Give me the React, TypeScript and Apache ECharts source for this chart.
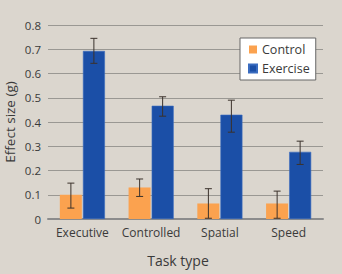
import React, { useEffect, useRef } from "react";
import * as echarts from "echarts";

const categories = ["Executive", "Controlled", "Spatial", "Speed"];
const controlValues = [0.1, 0.13, 0.064, 0.064];
const exerciseValues = [0.693, 0.467, 0.43, 0.277];
// [low, high] error ranges
const controlErrors = [
  [0.045, 0.148],
  [0.093, 0.165],
  [0.003, 0.125],
  [0.003, 0.115],
];
const exerciseErrors = [
  [0.642, 0.745],
  [0.424, 0.504],
  [0.358, 0.49],
  [0.225, 0.321],
];
const yTicks = { min: 0, max: 0.8, interval: 0.1 };

const FONT = "'Open Sans', 'Noto Sans', sans-serif";
const TEXT = "#3a3a3a";
const BAR_W = 22;
const HALF_OFFSET = 11.5;

function errorSeries(name: string, errors: number[][], sign: number) {
  return {
    type: "custom",
    name: name + "-err",
    silent: true,
    z: 5,
    data: errors.map((e, i) => [i, e[0], e[1]]),
    encode: { x: 0, y: [1, 2] },
    renderItem: (_params: any, api: any) => {
      const i = api.value(0);
      const lo = api.coord([i, api.value(1)]);
      const hi = api.coord([i, api.value(2)]);
      const x = lo[0] + sign * HALF_OFFSET;
      const cap = 3.5;
      const style = { stroke: "#3b322c", lineWidth: 1 };
      return {
        type: "group",
        children: [
          { type: "line", shape: { x1: x, y1: hi[1], x2: x, y2: lo[1] }, style },
          { type: "line", shape: { x1: x - cap, y1: hi[1], x2: x + cap, y2: hi[1] }, style },
          { type: "line", shape: { x1: x - cap, y1: lo[1], x2: x + cap, y2: lo[1] }, style },
        ],
      };
    },
  };
}

export default function App() {
  const ref = useRef<HTMLDivElement>(null);
  useEffect(() => {
    if (!ref.current) return;
    const chart = echarts.init(ref.current, undefined, { renderer: "svg" });
    chart.setOption({
      animation: false,
      backgroundColor: "#dbd6ce",
      textStyle: { fontFamily: FONT },
      grid: { left: 48, right: 19, top: 25, bottom: 55, containLabel: false, outerBoundsMode: "none" },
      legend: {
        orient: "vertical",
        left: 240,
        top: 38,
        width: 73,
        padding: [5, 6, 5, 8],
        itemWidth: 8,
        itemHeight: 8,
        itemGap: 6,
        backgroundColor: "#ffffff",
        borderColor: "#666",
        borderWidth: 1,
        icon: "rect",
        data: ["Control", "Exercise"],
        textStyle: { fontFamily: FONT, fontSize: 12.5, color: TEXT, padding: [0, 0, 0, 0] },
      },
      xAxis: {
        type: "category",
        data: categories,
        name: "Task type",
        nameLocation: "middle",
        nameGap: 34,
        nameMoveOverlap: false,
        nameTextStyle: { fontFamily: FONT, fontSize: 14, color: TEXT, padding: [0, 15, 0, 0] },
        axisLine: { lineStyle: { color: "#8c8c8c", width: 2 } },
        axisTick: { show: false },
        axisLabel: { interval: 0, fontFamily: FONT, fontSize: 12, color: TEXT, margin: 7 },
      },
      yAxis: {
        type: "value",
        min: yTicks.min,
        max: yTicks.max,
        interval: yTicks.interval,
        name: "Effect size (g)",
        nameLocation: "middle",
        nameGap: 31,
        nameMoveOverlap: false,
        nameTextStyle: { fontFamily: FONT, fontSize: 13.5, color: TEXT },
        axisLine: { show: false },
        axisTick: { show: false },
        axisLabel: { fontFamily: FONT, fontSize: 11.5, color: TEXT, margin: 7 },
        splitLine: { lineStyle: { color: "#9a9893", width: 1 } },
      },
      series: [
        {
          type: "bar",
          name: "Control",
          data: controlValues,
          barWidth: BAR_W,
          barGap: "5%",
          itemStyle: { color: "#fba24f" },
        },
        {
          type: "bar",
          name: "Exercise",
          data: exerciseValues,
          barWidth: BAR_W,
          barGap: "5%",
          itemStyle: { color: "#1b4fa7", borderColor: "#3a6cc0", borderWidth: 0.6 },
        },
        errorSeries("Control", controlErrors, -1),
        errorSeries("Exercise", exerciseErrors, 1),
      ],
    });
    return () => chart.dispose();
  }, []);
  return (
    <div
      ref={ref}
      style={{ position: "fixed", left: 0, top: 0, width: 342, height: 274 }}
    />
  );
}
